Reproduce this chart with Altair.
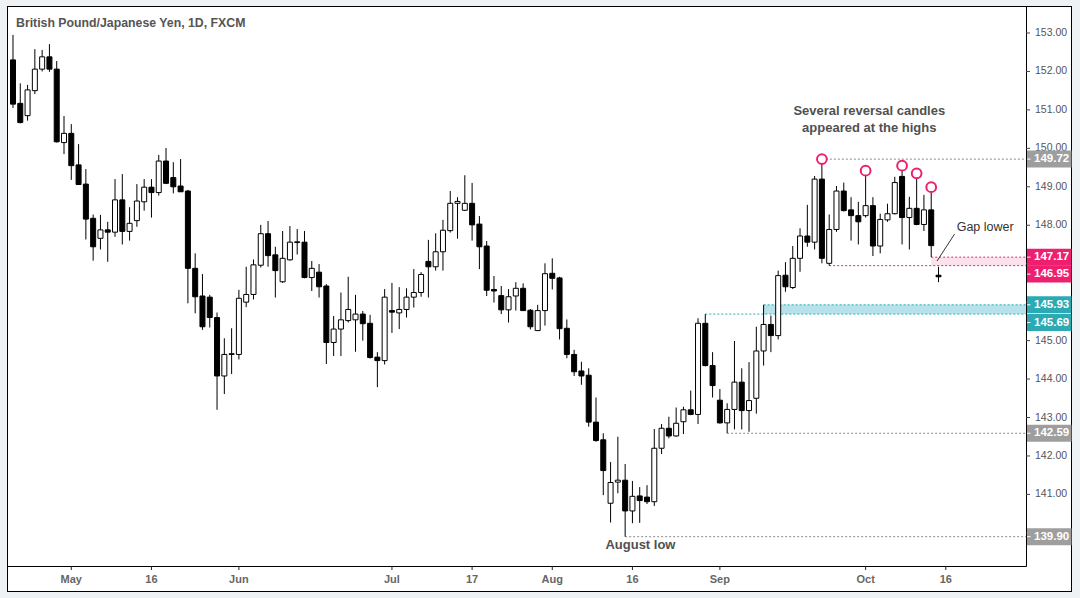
import altair as alt
import pandas as pd

# ---- OHLC of GBP/JPY daily candles (index 0 = Apr 19 2018, weekdays only) ----
opens = [152.30, 151.17, 150.85, 151.50, 152.06, 152.38, 152.06, 150.15, 150.39, 149.57,
         149.07, 148.18, 147.66, 147.88, 147.82, 148.66, 147.84, 148.12, 148.61, 148.99,
         148.85, 149.67, 149.24, 149.02, 148.89, 146.88, 146.16, 146.13, 145.60, 144.08,
         144.64, 144.64, 146.00, 146.20, 146.96, 147.78, 147.23, 146.53, 147.10, 147.55,
         147.56, 146.64, 146.78, 146.42, 144.95, 145.30, 145.52, 145.54, 145.69, 145.45,
         144.57, 144.48, 145.78, 145.72, 145.81, 146.13, 146.25, 147.06, 146.92, 147.31,
         147.86, 148.57, 148.39, 148.57, 148.03, 147.46, 146.33, 146.17, 145.80, 146.16,
         146.36, 145.79, 145.26, 145.78, 146.75, 146.63, 145.32, 144.64, 144.21, 144.10,
         142.88, 142.42, 140.77, 141.32, 141.37, 140.57, 140.96, 140.93, 140.81, 142.20,
         142.72, 142.52, 142.89, 143.20, 143.08, 145.45, 144.35, 143.45, 142.86, 143.21,
         143.92, 143.18, 143.50, 144.73, 145.42, 145.13, 146.70, 146.38, 147.14, 147.72,
         147.56, 149.20, 147.01, 147.89, 148.89, 148.40, 148.25, 148.25, 148.51, 147.46,
         148.14, 148.30, 149.27, 148.20, 148.44, 148.02, 148.40, 146.70]
highs = [152.95, 151.69, 151.65, 152.58, 152.56, 152.71, 152.27, 150.84, 150.63, 150.11,
         149.46, 148.28, 148.27, 148.09, 149.20, 149.33, 148.47, 149.07, 149.20, 149.20,
         149.83, 150.01, 149.64, 149.72, 148.92, 147.27, 146.73, 146.19, 145.73, 145.06,
         145.32, 146.32, 146.92, 147.11, 148.01, 148.11, 147.44, 147.85, 147.98, 147.90,
         147.85, 147.07, 146.99, 146.47, 145.64, 146.25, 146.66, 146.19, 145.77, 145.67,
         144.70, 146.34, 146.50, 146.39, 146.36, 146.86, 146.78, 147.62, 147.79, 148.14,
         148.89, 148.73, 149.30, 149.10, 148.24, 147.59, 146.68, 146.42, 146.34, 146.52,
         146.49, 145.82, 145.93, 147.01, 147.14, 146.66, 145.55, 144.76, 144.45, 144.28,
         143.52, 142.59, 141.84, 142.50, 141.79, 141.35, 141.19, 141.24, 142.70, 142.83,
         143.02, 143.26, 143.28, 143.70, 145.58, 145.69, 144.70, 143.74, 143.37, 144.99,
         144.28, 144.44, 145.36, 145.93, 145.65, 146.82, 147.04, 147.46, 147.92, 148.53,
         149.28, 149.72, 148.28, 149.02, 149.11, 148.73, 148.61, 149.42, 148.73, 148.30,
         148.56, 149.26, 149.55, 148.74, 149.35, 148.79, 148.99, 146.92]
lows = [151.05, 150.65, 150.72, 151.41, 152.00, 151.99, 150.15, 149.85, 149.18, 149.05,
        147.63, 147.08, 147.37, 147.05, 147.70, 147.50, 147.60, 147.96, 148.38, 148.20,
        148.77, 149.07, 148.83, 148.87, 145.97, 145.71, 145.28, 145.34, 143.20, 143.61,
        144.13, 144.51, 145.87, 146.07, 146.90, 146.92, 146.12, 146.50, 147.08, 147.24,
        146.62, 146.29, 146.12, 144.39, 144.60, 144.60, 145.47, 144.71, 145.00, 144.53,
        143.79, 144.38, 145.20, 145.30, 145.60, 145.86, 146.14, 146.12, 146.82, 146.82,
        147.81, 147.65, 148.37, 147.60, 146.86, 146.16, 145.99, 145.69, 145.47, 145.78,
        145.78, 145.29, 145.26, 145.39, 146.33, 145.03, 144.54, 144.08, 143.85, 142.76,
        142.37, 140.98, 140.27, 141.03, 139.90, 140.25, 140.26, 140.75, 140.70, 142.05,
        142.46, 142.50, 142.57, 143.06, 142.83, 144.33, 143.52, 142.84, 142.59, 142.69,
        142.69, 142.63, 143.10, 144.35, 144.70, 145.03, 146.27, 146.34, 146.79, 147.44,
        147.37, 147.01, 146.95, 147.83, 148.36, 147.60, 147.50, 148.20, 147.20, 147.27,
        148.09, 148.28, 147.50, 147.37, 148.00, 147.85, 147.17, 146.52]
closes = [151.15, 150.67, 151.52, 152.06, 152.38, 152.06, 150.17, 150.39, 149.55, 149.06,
          148.16, 147.44, 147.88, 147.82, 148.66, 147.84, 148.05, 148.63, 148.99, 148.85,
          149.67, 149.09, 149.00, 148.87, 146.88, 146.14, 145.36, 145.60, 144.08, 144.64,
          144.66, 146.10, 146.20, 146.97, 147.78, 147.21, 146.82, 147.14, 147.56, 147.57,
          146.64, 146.88, 146.40, 144.95, 145.30, 145.54, 145.81, 145.69, 145.44, 144.56,
          144.48, 146.13, 145.74, 145.81, 146.13, 146.25, 146.72, 146.92, 147.31, 147.87,
          148.57, 148.62, 148.57, 148.01, 147.44, 146.31, 146.29, 145.80, 146.14, 146.36,
          145.78, 145.36, 145.78, 146.74, 146.62, 145.31, 144.64, 144.19, 144.08, 142.88,
          142.40, 141.62, 141.31, 141.37, 140.57, 140.95, 140.84, 140.81, 142.20, 142.72,
          142.52, 142.85, 143.20, 143.08, 145.45, 144.35, 143.83, 142.86, 143.21, 143.92,
          143.18, 143.44, 144.73, 145.42, 145.13, 146.69, 146.40, 147.14, 147.72, 147.56,
          149.20, 147.14, 147.89, 148.89, 148.38, 148.25, 148.09, 148.51, 147.46, 148.15,
          148.30, 149.11, 148.20, 148.44, 148.02, 148.40, 147.47, 146.66]

# x-axis ticks (bar index) and their labels
tick_idx = [8, 19, 31, 52, 63, 74, 85, 97, 117, 128]
tick_labels = ["May", "16", "Jun", "Jul", "17", "Aug", "16", "Sep", "Oct", "16"]
# y-axis ticks; labels under the price boxes (140, 146, 147) are hidden in the reference
y_ticks = [140, 141, 142, 143, 144, 145, 146, 147, 148, 149, 150, 151, 152, 153]
y_label_ticks = [141, 142, 143, 144, 145, 148, 149, 150, 151, 152, 153]

# horizontal levels
level_prices = [149.72, 147.17, 146.95, 145.93, 145.69, 142.59, 139.90]
level_start = [111, 126, 112, 103, 95, 98, 84]
level_kind = ["grey", "pink", "pink", "teal", "teal", "grey", "grey"]
shifted_levels = [146.95, 145.69]

# zones
zone_start = [126, 103]
zone_low = [146.95, 145.69]
zone_high = [147.17, 145.93]
zone_kind = ["pink", "teal"]

# circled reversal candles
circled = [111, 117, 122, 124, 126]

# annotations
note_text = ["Several reversal candles", "appeared at the highs", "August low"]
note_x = [117.5, 117.5, 86.1]
note_y = [150.97, 150.53, 139.68]
gap_text = ["Gap lower"]
gap_x = [133.4]
gap_y = [147.95]
gap_line_x = [129.2]
gap_line_x2 = [126.8]
gap_line_y = [147.77]
gap_line_y2 = [147.07]

W, H = 1019, 560
PINK, TEAL, GREY = "#EE1F6F", "#2BAAB4", "#9E9E9E"
BG = "#EFF2F5"

df = pd.DataFrame({"idx": list(range(len(opens))), "open": opens, "high": highs,
                   "low": lows, "close": closes})
df["dir"] = ["up" if c >= o else "down" for o, c in zip(opens, closes)]

lv = pd.DataFrame({"price": level_prices, "start": level_start, "kind": level_kind})
lv["shift"] = ["down" if p in shifted_levels else "none" for p in level_prices]
zn = pd.DataFrame({"start": zone_start, "lo": zone_low, "hi": zone_high, "kind": zone_kind})
notes = pd.DataFrame({"t": note_text, "x": note_x, "y": note_y})
gapn = pd.DataFrame({"t": gap_text, "x": gap_x, "y": gap_y, "lx": gap_line_x,
                     "lx2": gap_line_x2, "ly": gap_line_y, "ly2": gap_line_y2})
xt = pd.DataFrame({"v": tick_idx, "lab": tick_labels})
yt = pd.DataFrame({"v": y_ticks})
ytl = pd.DataFrame({"v": y_label_ticks})
one = pd.DataFrame({"a": [0]})

xs = alt.Scale(domain=[-0.136, 138.32], nice=False, zero=False)
ys = alt.Scale(domain=[139.138, 153.702], nice=False, zero=False)


def X(f):
    return alt.X(f, scale=xs, axis=None)


def Y(f):
    return alt.Y(f, scale=ys, axis=None)


def vrect(x0, x1, y0, y1, color):
    return alt.Chart(one).mark_rect(color=color).encode(
        x=alt.value(x0), x2=alt.value(x1), y=alt.value(y0), y2=alt.value(y1))


def vrule(x0, x1, y0, y1):
    return alt.Chart(one).mark_rule(color="black", strokeWidth=1).encode(
        x=alt.value(x0), x2=alt.value(x1), y=alt.value(y0), y2=alt.value(y1))


layers = [
    vrect(-7, 0, -6, 592, BG), vrect(-7, 1073, -6, 0, BG),
    vrect(1065, 1073, -6, 592, BG), vrect(-7, 1073, 586, 592, BG),
    vrule(0.5, 0.5, 0, 586), vrule(0, 1065, 0.5, 0.5),
    vrule(1064.5, 1064.5, 0, 586), vrule(0, 1065, 585.5, 585.5),
]

# axes drawn as marks
layers.append(alt.Chart(xt).mark_rule(color="#222", strokeWidth=1).encode(
    x=X("v:Q"), y=alt.value(H), y2=alt.value(H + 4)))
layers.append(alt.Chart(xt).mark_text(fontSize=11, fontWeight="bold", color="#666",
                                      baseline="middle", align="center").encode(
    x=X("v:Q"), y=alt.value(H + 14), text="lab:N"))
layers.append(alt.Chart(yt).mark_rule(color="#444", strokeWidth=1).encode(
    y=Y("v:Q"), x=alt.value(W), x2=alt.value(W + 4)))
layers.append(alt.Chart(ytl).mark_text(fontSize=10.5, color="#555", baseline="middle",
                                       align="left").encode(
    y=Y("v:Q"), x=alt.value(W + 9), text=alt.Text("v:Q", format=".2f")))

# zones and level lines
for k, c in [("pink", "#FBE1EB"), ("teal", "#B8E2E9")]:
    layers.append(alt.Chart(zn[zn["kind"] == k]).mark_rect(color=c).encode(
        x=X("start:Q"), x2=alt.value(W), y=Y("lo:Q"), y2="hi:Q"))

for k, c in [("grey", "#8a8a8a"), ("pink", PINK), ("teal", TEAL)]:
    layers.append(alt.Chart(lv[lv["kind"] == k]).mark_rule(strokeDash=[2, 2], strokeWidth=1, color=c).encode(
        x=X("start:Q"), x2=alt.value(W), y=Y("price:Q")))

# candles
layers.append(alt.Chart(df).mark_rule(color="black", strokeWidth=1, clip=True).encode(
    x=X("idx:Q"), y=Y("low:Q"), y2="high:Q"))
layers.append(alt.Chart(df).mark_bar(size=5, stroke="black", strokeWidth=1, clip=True).encode(
    x=X("idx:Q"), y=Y("open:Q"), y2="close:Q",
    fill=alt.Fill("dir:N", scale=alt.Scale(domain=["up", "down"], range=["white", "black"]), legend=None)))

layers.append(alt.Chart(df).transform_filter(
    alt.FieldOneOfPredicate(field="idx", oneOf=circled)
).mark_point(shape="circle", size=95, filled=False, fill="white", fillOpacity=1,
             stroke=PINK, strokeWidth=2, opacity=1).encode(x=X("idx:Q"), y=Y("high:Q")))

# price label boxes
for k, c in [("grey", GREY), ("pink", PINK), ("teal", TEAL)]:
    for shift in ["none", "down"]:
        sub = lv[(lv["kind"] == k) & (lv["shift"] == shift)]
        if len(sub) == 0:
            continue
        y0, y1 = (-8.5, 8.5) if shift == "none" else (0, 17)
        ty = 0 if shift == "none" else 8.5
        layers.append(alt.Chart(sub).mark_rect(color=c, yOffset=y0, y2Offset=y1).encode(
            x=alt.value(W + 1), x2=alt.value(W + 45.5), y=Y("price:Q"), y2="price:Q"))
        layers.append(alt.Chart(sub).mark_rule(color="white", strokeWidth=1, yOffset=ty).encode(
            x=alt.value(W + 1), x2=alt.value(W + 4.5), y=Y("price:Q")))
        layers.append(alt.Chart(sub).mark_text(color="white", fontWeight="bold", fontSize=11.5,
                                               align="left", baseline="middle", dy=ty).encode(
            x=alt.value(W + 8), y=Y("price:Q"), text=alt.Text("price:Q", format=".2f")))

# texts
layers.append(alt.Chart(one).mark_text(align="left", baseline="middle", fontSize=12.3,
                                       fontWeight="bold", color="#555").encode(
    x=alt.value(9), y=alt.value(17), text=alt.value("British Pound/Japanese Yen, 1D, FXCM")))
layers.append(alt.Chart(notes).mark_text(fontSize=13, fontWeight="bold", color="#505050",
                                         baseline="middle", align="center").encode(
    x=X("x:Q"), y=Y("y:Q"), text="t:N"))
layers.append(alt.Chart(gapn).mark_text(fontSize=12.5, color="#333", baseline="middle",
                                        align="center").encode(
    x=X("x:Q"), y=Y("y:Q"), text="t:N"))
layers.append(alt.Chart(gapn).mark_rule(color="#333", strokeWidth=1).encode(
    x=X("lx:Q"), x2="lx2:Q", y=Y("ly:Q"), y2="ly2:Q"))

chart = alt.layer(*layers).properties(
    width=W, height=H, background="white",
    padding={"left": 7, "top": 6, "right": 54, "bottom": 32},
    autosize=alt.AutoSizeParams(type="none"),
).configure_view(stroke="black", strokeWidth=1).configure_text(font="Liberation Sans")

chart.save("out.html", embed_options={"renderer": "svg", "actions": False})
